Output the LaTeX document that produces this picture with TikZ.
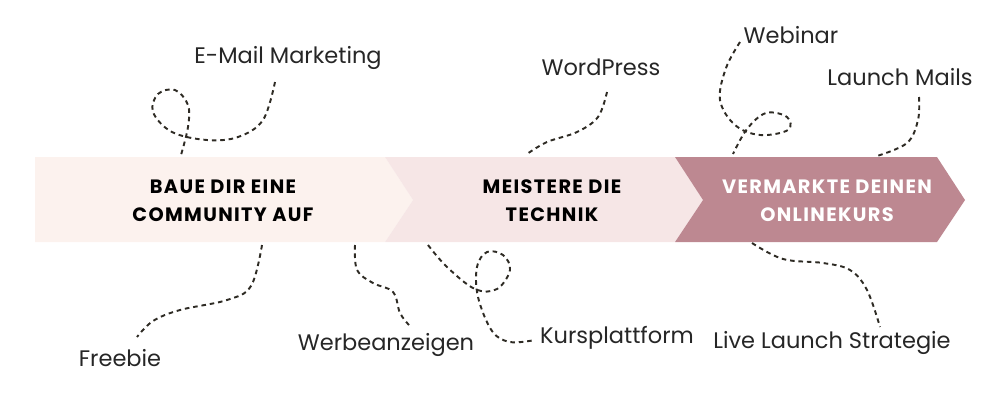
\documentclass[tikz,border=0pt]{standalone}
\usepackage{fontspec}
\setmainfont{Poppins}
\newfontfamily\stagefont[LetterSpace=7]{Poppins}
\usetikzlibrary{positioning}
\definecolor{stageone}{HTML}{FCF2EE}
\definecolor{stagetwo}{HTML}{F6E6E6}
\definecolor{stagethree}{HTML}{BD8891}
\definecolor{trail}{HTML}{2E2B24}
\tikzset{
     stage/.style = {font=\stagefont\bfseries\fontsize{11}{16}\selectfont,
                     align=center, inner sep=0pt},
     label/.style = {font=\fontsize{12.8}{14}\selectfont, inner sep=0pt,
                     text=black!85},
  squiggle/.style = {draw=trail, line width=1.1pt,
                     dash pattern=on 2.6pt off 2.2pt},
}
\begin{document}
\begin{tikzpicture}[x=0.02cm, y=-0.02cm]
  \useasboundingbox (0,0) rectangle (1000,400);
  % chevrons
  \fill[stageone] (35,157) -- (385,157) -- (413,200) -- (385,242) -- (35,242) -- cycle;
  \fill[stagetwo] (385,157) -- (675,157) -- (703,200) -- (675,242) -- (385,242) -- (413,200) -- cycle;
  \fill[stagethree] (675,157) -- (937,157) -- (965,200) -- (937,242) -- (675,242) -- (703,200) -- cycle;
  \node[stage] (community) at (223,201) {BAUE DIR EINE\\COMMUNITY AUF};
  \node[stage] (technik) at (552,201) {MEISTERE DIE\\TECHNIK};
  \node[stage, text=white] (onlinekurs) at (827,201) {VERMARKTE DEINEN\\ONLINEKURS};
  % labels
  \node[label] (email) at (288,58) {E-Mail Marketing};
  \node[label] (wordpress) at (601,67) {WordPress};
  \node[label] (webinar) at (791,35) {Webinar};
  \node[label] (mails) at (900,77) {Launch Mails};
  \node[label] (freebie) at (120,358) {Freebie};
  \node[label] (werbung) at (386,345) {Werbeanzeigen};
  \node[label] (plattform) at (617,338) {Kursplattform};
  \node[label] (strategie) at (832,343) {Live Launch Strategie};
  % trails
  \draw[squiggle] plot[smooth, tension=0.6] coordinates {(275,82) (263,120) (238,137) (207,140) (172,132) (153,112) (158,94) (175,90) (188,105) (188,127) (181,155)};
  \draw[squiggle] plot[smooth, tension=0.6] coordinates {(607,92) (598,117) (577,132) (547,142) (527,154)};
  \draw[squiggle] plot[smooth, tension=0.6] coordinates {(740,42) (726,68) (720,100) (735,125) (760,135) (788,130) (787,117) (766,113) (747,129) (733,154)};
  \draw[squiggle] plot[smooth, tension=0.6] coordinates {(919,97) (918,120) (907,143) (877,156)};
  \draw[squiggle] plot[smooth, tension=0.6] coordinates {(262,245) (251,286) (227,300) (180,310) (153,321) (137,337)};
  \draw[squiggle] plot[smooth, tension=0.6] coordinates {(355,245) (357,270) (373,283) (393,292) (400,313) (409,325)};
  \draw[squiggle] plot[smooth, tension=0.6] coordinates {(428,245) (447,267) (475,289) (497,289) (510,270) (503,255) (487,252) (477,267) (478,297) (492,331) (510,342) (535,340)};
  \draw[squiggle] plot[smooth, tension=0.6] coordinates {(752,243) (783,259) (823,263) (850,270) (867,290) (880,327)};
\end{tikzpicture}
\end{document}
